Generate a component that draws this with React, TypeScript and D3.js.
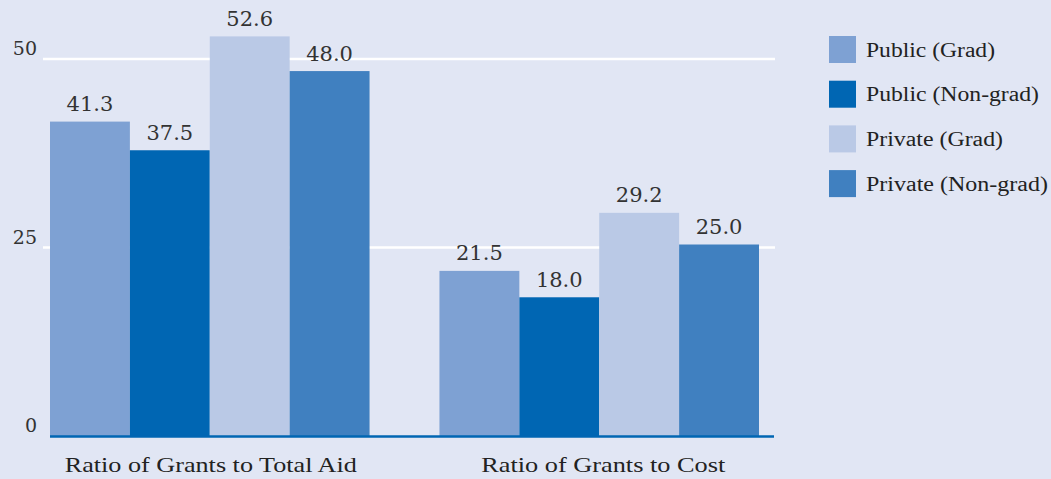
import React from "react"
import * as d3 from "d3"

const categories = ["Ratio of Grants to Total Aid", "Ratio of Grants to Cost"]
const series = ["Public (Grad)", "Public (Non-grad)", "Private (Grad)", "Private (Non-grad)"]
const publicGrad = [41.3, 21.5]
const publicNonGrad = [37.5, 18.0]
const privateGrad = [52.6, 29.2]
const privateNonGrad = [48.0, 25.0]
const yTicks = [0, 25, 50]
const colors = ["#7ea1d3", "#0066b3", "#bac9e6", "#4080c0"]

const W = 1051
const H = 479

export default function App() {
  const values = [publicGrad, publicNonGrad, privateGrad, privateNonGrad]

  const x0 = d3.scaleBand().domain(categories).range([50, 759]).paddingInner(70 / 390).paddingOuter(0)
  const x1 = d3.scaleBand().domain(series).range([0, x0.bandwidth()]).padding(0)
  const y = d3.scaleLinear().domain([0, 50]).range([433, 56])
  const base = y(0) + 3.5

  const serif = "'DejaVu Serif', serif"
  const times = "'Liberation Serif', serif"

  return (
    <svg width={W} height={H} style={{ position: "absolute", left: 0, top: 0, background: "#e1e6f4" }}>
      <rect x={0} y={0} width={W} height={H} fill="#e1e6f4" />
      {/* grid lines */}
      {yTicks.filter(t => t > 0).map(t => (
        <line key={t} x1={43} x2={775} y1={y(t) + 3} y2={y(t) + 3} stroke="#ffffff" strokeWidth={2.5} />
      ))}
      {/* tick labels */}
      {yTicks.map(t => (
        <text key={"t" + t} x={37} y={y(t) - 1} textAnchor="end" fontFamily={serif} fontSize={19} fill="#333">
          {t}
        </text>
      ))}
      {/* bars */}
      {categories.map((c, ci) => (
        <g key={c} transform={`translate(${x0(c)},0)`}>
          {series.map((s, si) => {
            const v = values[si][ci]
            return (
              <g key={s}>
                <rect x={x1(s)} y={y(v)} width={x1.bandwidth()} height={base - y(v)} fill={colors[si]} />
                <text
                  x={(x1(s) as number) + x1.bandwidth() / 2}
                  y={y(v) - 10.5}
                  textAnchor="middle"
                  fontFamily={serif}
                  fontSize={21}
                  fill="#333"
                >
                  {v.toFixed(1)}
                </text>
              </g>
            )
          })}
        </g>
      ))}
      {/* baseline */}
      <line x1={50} x2={774} y1={base} y2={base} stroke="#0066b3" strokeWidth={2.5} />
      {/* category labels */}
      {categories.map((c, i) => (
        <text
          key={"c" + c}
          x={(x0(c) as number) + x0.bandwidth() / 2 + (i === 0 ? 1 : 4)}
          y={472}
          textAnchor="middle"
          fontFamily={times}
          fontSize={22}
          fill="#222"
          textLength={i === 0 ? 292 : 244}
          lengthAdjust="spacingAndGlyphs"
        >
          {c}
        </text>
      ))}
      {/* legend */}
      {series.map((s, i) => (
        <g key={"l" + s} transform={`translate(829,${36 + i * 44.7})`}>
          <rect x={0} y={0} width={27} height={27} fill={colors[i]} />
          <text
            x={37}
            y={20.5}
            fontFamily={times}
            fontSize={20}
            fill="#222"
            textLength={[129, 173, 137, 182][i]}
            lengthAdjust="spacingAndGlyphs"
          >
            {s}
          </text>
        </g>
      ))}
    </svg>
  )
}
